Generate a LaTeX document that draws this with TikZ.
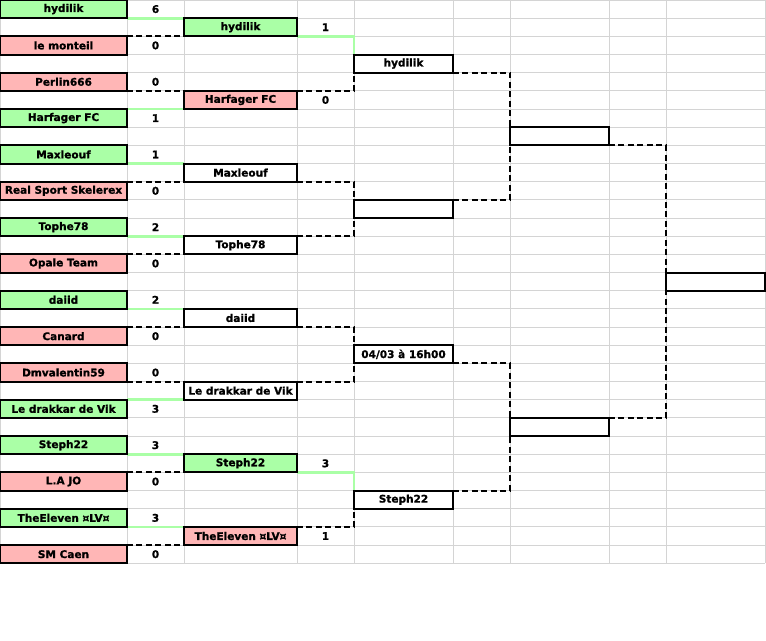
\documentclass[tikz,border=0pt]{standalone}
\usepackage{fontspec}
\setmainfont{DejaVu Sans}[BoldFeatures={FakeBold=1}]
\definecolor{wingreen}{RGB}{170,255,166}
\definecolor{losepink}{RGB}{255,182,182}
\definecolor{gridgray}{RGB}{212,212,212}
\tikzset{
  cellbox/.style={draw=black, line width=1.5pt, inner sep=0pt, outer sep=0pt,
    minimum height=13.6275pt, font=\bfseries\fontsize{7.9}{9}\selectfont, text=black},
  wbox/.style={cellbox, fill=white},
  gbox/.style={cellbox, fill=wingreen},
  pbox/.style={cellbox, fill=losepink},
  colA/.style={minimum width=95.25pt},
  colC/.style={minimum width=84.75pt},
  colE/.style={minimum width=74.25pt},
  scorecell/.style={inner sep=0pt, outer sep=0pt, minimum height=13.6275pt,
    minimum width=42.75pt, font=\bfseries\fontsize{7.9}{9}\selectfont, text=black},
  winline/.style={draw=wingreen, line width=2pt},
  loseline/.style={draw=black, line width=1.5pt, dash pattern=on 4.5pt off 2.6pt},
  gridline/.style={draw=gridgray, line width=0.75pt}
}
\begin{document}
\begin{tikzpicture}[x=0.75pt, y=-13.6275pt]
\useasboundingbox (0,0) rectangle (766,35.2229);
% grid
\foreach \k in {0,...,31} \draw[gridline] (0,\k) -- (765,\k);
\foreach \c in {0,127,184,297,354,453,510,609,666,765} \draw[gridline] (\c,0) -- (\c,31);

% round 1 teams
\node[gbox,colA] (t0) at (63.5,0.5) {hydilik};
\node[pbox,colA] (t1) at (63.5,2.5) {le monteil};
\node[pbox,colA] (t2) at (63.5,4.5) {Perlin666};
\node[gbox,colA] (t3) at (63.5,6.5) {Harfager FC};
\node[gbox,colA] (t4) at (63.5,8.5) {Maxleouf};
\node[pbox,colA] (t5) at (63.5,10.5) {Real Sport Skelerex};
\node[gbox,colA] (t6) at (63.5,12.5) {Tophe78};
\node[pbox,colA] (t7) at (63.5,14.5) {Opale Team};
\node[gbox,colA] (t8) at (63.5,16.5) {daiid};
\node[pbox,colA] (t9) at (63.5,18.5) {Canard};
\node[pbox,colA] (t10) at (63.5,20.5) {Dmvalentin59};
\node[gbox,colA] (t11) at (63.5,22.5) {Le drakkar de Vik};
\node[gbox,colA] (t12) at (63.5,24.5) {Steph22};
\node[pbox,colA] (t13) at (63.5,26.5) {L.A JO};
\node[gbox,colA] (t14) at (63.5,28.5) {TheEleven ¤LV¤};
\node[pbox,colA] (t15) at (63.5,30.5) {SM Caen};

% round 1 scores
\node[scorecell] (s0) at (155.5,0.5) {6};
\node[scorecell] (s1) at (155.5,2.5) {0};
\node[scorecell] (s2) at (155.5,4.5) {0};
\node[scorecell] (s3) at (155.5,6.5) {1};
\node[scorecell] (s4) at (155.5,8.5) {1};
\node[scorecell] (s5) at (155.5,10.5) {0};
\node[scorecell] (s6) at (155.5,12.5) {2};
\node[scorecell] (s7) at (155.5,14.5) {0};
\node[scorecell] (s8) at (155.5,16.5) {2};
\node[scorecell] (s9) at (155.5,18.5) {0};
\node[scorecell] (s10) at (155.5,20.5) {0};
\node[scorecell] (s11) at (155.5,22.5) {3};
\node[scorecell] (s12) at (155.5,24.5) {3};
\node[scorecell] (s13) at (155.5,26.5) {0};
\node[scorecell] (s14) at (155.5,28.5) {3};
\node[scorecell] (s15) at (155.5,30.5) {0};

% round 2 cells
\node[gbox,colC] (q0) at (240.5,1.5) {hydilik};
\node[pbox,colC] (q1) at (240.5,5.5) {Harfager FC};
\node[wbox,colC] (q2) at (240.5,9.5) {Maxleouf};
\node[wbox,colC] (q3) at (240.5,13.5) {Tophe78};
\node[wbox,colC] (q4) at (240.5,17.5) {daiid};
\node[wbox,colC] (q5) at (240.5,21.5) {Le drakkar de Vik};
\node[gbox,colC] (q6) at (240.5,25.5) {Steph22};
\node[pbox,colC] (q7) at (240.5,29.5) {TheEleven ¤LV¤};

% round 2 scores
\node[scorecell] (qs0) at (325.5,1.5) {1};
\node[scorecell] (qs1) at (325.5,5.5) {0};
\node[scorecell] (qs6) at (325.5,25.5) {3};
\node[scorecell] (qs7) at (325.5,29.5) {1};

% round 3 cells
\node[wbox,colE] (h0) at (403.5,3.5) {hydilik};
\node[wbox,colE] (h1) at (403.5,11.5) {};
\node[wbox,colE] (h2) at (403.5,19.5) {04/03 à 16h00};
\node[wbox,colE] (h3) at (403.5,27.5) {Steph22};

% round 4 cells
\node[wbox,colE] (f0) at (559.5,7.5) {};
\node[wbox,colE] (f1) at (559.5,23.5) {};

% final
\node[wbox,colE] (w) at (715.5,15.5) {};

% connectors round 1 -> round 2
\draw[winline]  (t0.south east) -- (q0.north west);
\draw[loseline] (t1.north east) -- (q0.south west);
\draw[loseline] (t2.south east) -- (q1.north west);
\draw[winline]  (t3.north east) -- (q1.south west);
\draw[winline]  (t4.south east) -- (q2.north west);
\draw[loseline] (t5.north east) -- (q2.south west);
\draw[winline]  (t6.south east) -- (q3.north west);
\draw[loseline] (t7.north east) -- (q3.south west);
\draw[winline]  (t8.south east) -- (q4.north west);
\draw[loseline] (t9.north east) -- (q4.south west);
\draw[loseline] (t10.south east) -- (q5.north west);
\draw[winline]  (t11.north east) -- (q5.south west);
\draw[winline]  (t12.south east) -- (q6.north west);
\draw[loseline] (t13.north east) -- (q6.south west);
\draw[winline]  (t14.south east) -- (q7.north west);
\draw[loseline] (t15.north east) -- (q7.south west);

% connectors round 2 -> round 3
\draw[winline]  (q0.south east) -| (h0.north west);
\draw[loseline] (q1.north east) -| (h0.south west);
\draw[loseline] (q2.south east) -| (h1.north west);
\draw[loseline] (q3.north east) -| (h1.south west);
\draw[loseline] (q4.south east) -| (h2.north west);
\draw[loseline] (q5.north east) -| (h2.south west);
\draw[winline]  (q6.south east) -| (h3.north west);
\draw[loseline] (q7.north east) -| (h3.south west);

% connectors round 3 -> round 4
\draw[loseline] (h0.south east) -| (f0.north west);
\draw[loseline] (h1.north east) -| (f0.south west);
\draw[loseline] (h2.south east) -| (f1.north west);
\draw[loseline] (h3.north east) -| (f1.south west);

% connectors round 4 -> final
\draw[loseline] (f0.south east) -| (w.north west);
\draw[loseline] (f1.north east) -| (w.south west);

% redraw box borders on top of connectors
\foreach \n in {t0,t1,t2,t3,t4,t5,t6,t7,t8,t9,t10,t11,t12,t13,t14,t15,q0,q1,q2,q3,q4,q5,q6,q7,h0,h1,h2,h3,f0,f1,w}
  \draw[black, line width=1.5pt] (\n.north west) rectangle (\n.south east);
\end{tikzpicture}
\end{document}
